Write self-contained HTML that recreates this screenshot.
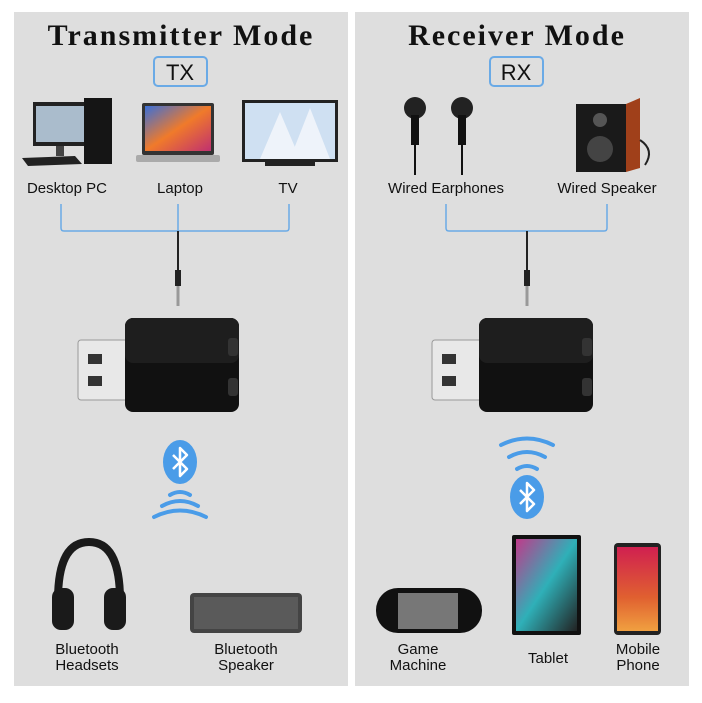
<!DOCTYPE html>
<html><head><style>
body{margin:0;background:#fff;width:702px;height:698px;overflow:hidden}
svg text{font-family:"Liberation Sans",sans-serif;fill:#111}
</style></head><body>
<svg width="702" height="698" viewBox="0 0 702 698" xmlns="http://www.w3.org/2000/svg">
<defs>
<linearGradient id="lap" x1="0" y1="0" x2="1" y2="1"><stop offset="0" stop-color="#3a6fd8"/><stop offset=".5" stop-color="#f07a2a"/><stop offset="1" stop-color="#c03070"/></linearGradient>
<linearGradient id="tab" x1="0" y1="0" x2="1" y2="1"><stop offset="0" stop-color="#c03a8a"/><stop offset=".5" stop-color="#2fb0b8"/><stop offset="1" stop-color="#222"/></linearGradient>
<linearGradient id="ph" x1="0" y1="0" x2="0" y2="1"><stop offset="0" stop-color="#d02050"/><stop offset=".6" stop-color="#e06030"/><stop offset="1" stop-color="#f0a040"/></linearGradient>
<g id="dongle">
 <rect x="0" y="22" width="50" height="60" rx="3" fill="#e8e8e8" stroke="#999"/>
 <rect x="10" y="36" width="14" height="10" fill="#333"/><rect x="10" y="58" width="14" height="10" fill="#333"/>
 <rect x="47" y="0" width="114" height="94" rx="8" fill="#111"/>
 <rect x="47" y="0" width="114" height="45" rx="8" fill="#1e1e1e"/>
 <rect x="150" y="20" width="10" height="18" rx="3" fill="#333"/><rect x="150" y="60" width="10" height="18" rx="3" fill="#333"/>
</g>
<g id="bt">
 <ellipse cx="0" cy="0" rx="17" ry="22" fill="#4a9ce8"/>
 <path d="M-7,-7 L7,7 L0,14 L0,-14 L7,-7 L-7,7" fill="none" stroke="#fff" stroke-width="2.5" stroke-linejoin="round"/>
</g>
</defs>
<rect x="14" y="12" width="334" height="674" fill="#dedede"/>
<rect x="355" y="12" width="334" height="674" fill="#dedede"/>

<text x="181" y="45" text-anchor="middle" style="font-family:'Liberation Serif',serif;font-weight:bold;font-size:30px;letter-spacing:2px">Transmitter Mode</text>
<text x="517" y="45" text-anchor="middle" style="font-family:'Liberation Serif',serif;font-weight:bold;font-size:30px;letter-spacing:2px">Receiver Mode</text>
<rect x="154" y="57" width="53" height="29" rx="4" fill="none" stroke="#6aaae6" stroke-width="2"/>
<text x="180" y="80" text-anchor="middle" font-size="22">TX</text>
<rect x="490" y="57" width="53" height="29" rx="4" fill="none" stroke="#6aaae6" stroke-width="2"/>
<text x="516" y="80" text-anchor="middle" font-size="22">RX</text>

<rect x="33" y="102" width="55" height="44" fill="#222"/><rect x="36" y="106" width="49" height="36" fill="#aabccc"/>
<rect x="56" y="146" width="8" height="10" fill="#444"/>
<rect x="84" y="98" width="28" height="66" fill="#151515"/>
<polygon points="22,158 75,156 82,164 28,166" fill="#222"/>
<rect x="142" y="103" width="72" height="52" rx="2" fill="#333"/><rect x="145" y="106" width="66" height="45" fill="url(#lap)"/>
<rect x="136" y="155" width="84" height="7" rx="2" fill="#aaa"/>
<rect x="242" y="100" width="96" height="62" fill="#222"/><rect x="245" y="103" width="90" height="56" fill="#cfe0f2"/>
<path d="M260,159 L280,112 L300,159 Z M290,159 L310,108 L330,159Z" fill="#eef3fa"/>
<rect x="265" y="162" width="50" height="4" fill="#222"/>

<text x="67" y="193" text-anchor="middle" font-size="15">Desktop PC</text>
<text x="180" y="193" text-anchor="middle" font-size="15">Laptop</text>
<text x="288" y="193" text-anchor="middle" font-size="15">TV</text>
<path d="M61,204 V228 Q61,231 64,231 H286 Q289,231 289,228 V204 M178,204 V231" fill="none" stroke="#6aaae6" stroke-width="1.5"/>
<line x1="178" y1="231" x2="178" y2="270" stroke="#222" stroke-width="2"/>
<rect x="175" y="270" width="6" height="16" fill="#222"/><rect x="176.5" y="286" width="3" height="20" fill="#999"/>

<ellipse cx="415" cy="108" rx="11" ry="11" fill="#222"/><rect x="411" y="115" width="8" height="30" fill="#111"/>
<ellipse cx="462" cy="108" rx="11" ry="11" fill="#222"/><rect x="458" y="115" width="8" height="30" fill="#111"/>
<line x1="415" y1="145" x2="415" y2="175" stroke="#111" stroke-width="2"/><line x1="462" y1="145" x2="462" y2="175" stroke="#111" stroke-width="2"/>
<rect x="576" y="104" width="50" height="68" fill="#1a1a1a"/><polygon points="626,104 640,98 640,168 626,172" fill="#a0401a"/>
<circle cx="600" cy="120" r="7" fill="#555"/><circle cx="600" cy="149" r="13" fill="#444"/>
<path d="M640,140 Q655,150 645,165" fill="none" stroke="#222" stroke-width="2"/>
<text x="446" y="193" text-anchor="middle" font-size="15">Wired Earphones</text>
<text x="607" y="193" text-anchor="middle" font-size="15">Wired Speaker</text>
<path d="M446,204 V228 Q446,231 449,231 H604 Q607,231 607,228 V204" fill="none" stroke="#6aaae6" stroke-width="1.5"/>
<line x1="527" y1="231" x2="527" y2="270" stroke="#222" stroke-width="2"/>
<rect x="524" y="270" width="6" height="16" fill="#222"/><rect x="525.5" y="286" width="3" height="20" fill="#999"/>

<use href="#dongle" x="78" y="318"/>
<use href="#dongle" x="432" y="318"/>

<use href="#bt" x="180" y="462"/>
<g fill="none" stroke="#4a9ce8" stroke-width="4" stroke-linecap="round">
<path d="M170,495 Q180,489 190,495"/><path d="M162,506 Q180,496 198,506"/><path d="M154,517 Q180,504 206,517"/>
<path d="M517,469 Q527,463 537,469"/><path d="M509,457 Q527,447 545,457"/><path d="M501,445 Q527,432 553,445"/>
</g>
<use href="#bt" x="527" y="497"/>

<path d="M58,600 Q58,542 89,542 Q120,542 120,600" fill="none" stroke="#1a1a1a" stroke-width="8"/>
<rect x="52" y="588" width="22" height="42" rx="9" fill="#1a1a1a"/><rect x="104" y="588" width="22" height="42" rx="9" fill="#1a1a1a"/>
<rect x="190" y="593" width="112" height="40" rx="4" fill="#444"/>
<rect x="194" y="597" width="104" height="32" fill="#5a5a5a"/>
<text x="87" y="654" text-anchor="middle" font-size="15">Bluetooth</text>
<text x="87" y="670" text-anchor="middle" font-size="15">Headsets</text>
<text x="246" y="654" text-anchor="middle" font-size="15">Bluetooth</text>
<text x="246" y="670" text-anchor="middle" font-size="15">Speaker</text>

<rect x="376" y="588" width="106" height="45" rx="22" fill="#111"/><rect x="398" y="593" width="60" height="36" fill="#777"/>
<rect x="512" y="535" width="69" height="100" rx="2" fill="#111"/><rect x="516" y="539" width="61" height="92" fill="url(#tab)"/>
<rect x="614" y="543" width="47" height="92" rx="4" fill="#222"/><rect x="617" y="547" width="41" height="84" fill="url(#ph)"/>
<text x="418" y="654" text-anchor="middle" font-size="15">Game</text>
<text x="418" y="670" text-anchor="middle" font-size="15">Machine</text>
<text x="548" y="663" text-anchor="middle" font-size="15">Tablet</text>
<text x="638" y="654" text-anchor="middle" font-size="15">Mobile</text>
<text x="638" y="670" text-anchor="middle" font-size="15">Phone</text>
</svg>
</body></html>
